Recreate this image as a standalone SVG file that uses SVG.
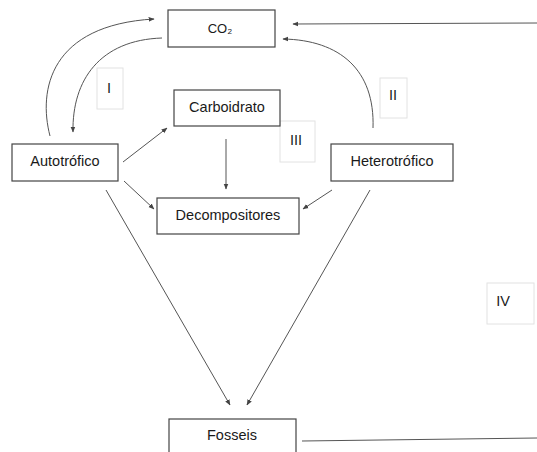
<svg xmlns="http://www.w3.org/2000/svg" width="537" height="452" viewBox="0 0 537 452">
<style>
.box{fill:#fff;stroke:#444;stroke-width:1.2}
.lbl{fill:#fff;stroke:#e2e2e2;stroke-width:1}
.t{font-family:"Liberation Sans","DejaVu Sans",sans-serif;font-size:14.5px;fill:#1a1a1a;text-anchor:middle;dominant-baseline:central}
.s{font-size:13px}
.c{fill:none;stroke:#555;stroke-width:1}
</style>
<defs>
<marker id="a" viewBox="0 0 10 10" refX="9" refY="5" markerWidth="6" markerHeight="6" orient="auto" markerUnits="userSpaceOnUse">
<path d="M0,1 L10,5 L0,9 z" fill="#444"/>
</marker>
</defs>
<g id="label-I"><rect class="lbl" x="97" y="68" width="26" height="41"/><text class="t" x="109" y="88">I</text></g>
<g id="label-II"><rect class="lbl" x="380" y="78" width="27" height="40"/><text class="t" x="393" y="95">II</text></g>
<g id="label-III"><rect class="lbl" x="280" y="121" width="35" height="41"/><text class="t" x="296" y="140">III</text></g>
<g id="label-IV"><rect class="lbl" x="487" y="283" width="47" height="41"/><text class="t" x="503" y="301">IV</text></g>
<g id="connectors">
<path class="c" d="M50,136 C38,90 50,25 154,19" marker-end="url(#a)"/>
<path class="c" d="M162,38 C100,40 72,80 73,132" marker-end="url(#a)"/>
<path class="c" d="M373,128 C375,70 340,40 283,39" marker-end="url(#a)"/>
<path class="c" d="M537,23 L293,24" marker-end="url(#a)"/>
<path class="c" d="M123,162 L167,128" marker-end="url(#a)"/>
<path class="c" d="M226,139 L226,189" marker-end="url(#a)"/>
<path class="c" d="M124,181 L154,209" marker-end="url(#a)"/>
<path class="c" d="M332,190 L303,209" marker-end="url(#a)"/>
<path class="c" d="M106,190 L230,405" marker-end="url(#a)"/>
<path class="c" d="M370,190 L247,405" marker-end="url(#a)"/>
<path class="c" d="M302,441 L537,438"/>
</g>
<g id="co2"><rect class="box" x="168" y="10" width="107" height="37"/><text class="t s" x="220" y="28">CO₂</text></g>
<g id="carboidrato"><rect class="box" x="174" y="90" width="106" height="36"/><text class="t" x="227" y="107">Carboidrato</text></g>
<g id="autotrofico"><rect class="box" x="12" y="144" width="106" height="37"/><text class="t" x="65" y="161">Autotrófico</text></g>
<g id="heterotrofico"><rect class="box" x="331" y="144" width="122" height="37"/><text class="t" x="392" y="161">Heterotrófico</text></g>
<g id="decompositores"><rect class="box" x="157" y="198" width="142" height="36"/><text class="t" x="228" y="215">Decompositores</text></g>
<g id="fosseis"><rect class="box" x="169" y="419" width="127" height="40"/><text class="t" x="232" y="435">Fosseis</text></g>
</svg>
